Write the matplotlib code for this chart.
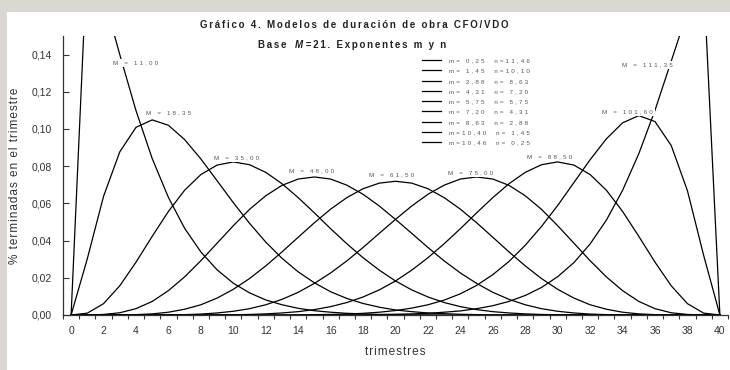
import matplotlib
matplotlib.use('Agg')
import matplotlib.pyplot as plt
from matplotlib.patches import Rectangle
from matplotlib.ticker import FixedLocator, FuncFormatter

# Fraccion de obras terminadas en cada trimestre (0..40) para cada par de exponentes
trimestres = list(range(41))
m_exp = [0.25, 1.45, 2.88, 4.31, 5.75, 7.20, 8.63, 10.40, 10.46]
n_exp = [11.46, 10.10, 8.63, 7.20, 5.75, 4.31, 2.88, 1.45, 0.25]
M_valores = ['11,00', '18,35', '35,00', '48,00', '61,50', '75,00', '88,50', '101,60', '111,35']

serie_1 = [0, .1945, .1717, .1400, .1099, .0841, .0632, .0466, .0339, .0243, .0171, .0119, .0081,
           .0055, .0036, .0023, .0015, .0009, .0006, .0003, .0002, .0001, .0001, 0, 0, 0, 0, 0, 0,
           0, 0, 0, 0, 0, 0, 0, 0, 0, 0, 0, 0]
serie_2 = [0, .0303, .0638, .0877, .1009, .1049, .1020, .0943, .0839, .0722, .0604, .0493, .0392,
           .0305, .0232, .0173, .0125, .0089, .0062, .0042, .0027, .0018, .0011, .0007, .0004,
           .0002, .0001, .0001, 0, 0, 0, 0, 0, 0, 0, 0, 0, 0, 0, 0, 0]
serie_3 = [0, .0010, .0061, .0157, .0284, .0423, .0557, .0671, .0755, .0806, .0823, .0808, .0767,
           .0706, .0631, .0549, .0464, .0383, .0308, .0241, .0183, .0135, .0097, .0067, .0045,
           .0029, .0018, .0011, .0006, .0003, .0001, .0001, 0, 0, 0, 0, 0, 0, 0, 0, 0]
serie_4 = [0, 0, .0003, .0012, .0034, .0073, .0131, .0205, .0292, .0386, .0480, .0568, .0641,
           .0697, .0731, .0742, .0731, .0698, .0649, .0586, .0514, .0439, .0363, .0291, .0226,
           .0170, .0122, .0084, .0055, .0034, .0020, .0011, .0005, .0002, .0001, 0, 0, 0, 0, 0, 0]
serie_5 = [0, 0, 0, 0, .0002, .0006, .0015, .0031, .0055, .0091, .0138, .0196, .0264, .0339,
           .0418, .0496, .0569, .0631, .0679, .0709, .0719, .0709, .0679, .0631, .0569, .0496,
           .0418, .0339, .0264, .0196, .0138, .0091, .0055, .0031, .0015, .0006, .0002, 0, 0, 0, 0]
serie_6 = [0, 0, 0, 0, 0, 0, .0001, .0002, .0005, .0011, .0020, .0034, .0055, .0084, .0122,
           .0170, .0226, .0291, .0363, .0439, .0514, .0586, .0649, .0698, .0731, .0742, .0731,
           .0697, .0641, .0568, .0480, .0386, .0292, .0205, .0131, .0073, .0034, .0012, .0003, 0, 0]
serie_7 = [0, 0, 0, 0, 0, 0, 0, 0, 0, .0001, .0001, .0003, .0006, .0011, .0018, .0029, .0045,
           .0067, .0097, .0135, .0183, .0241, .0308, .0383, .0464, .0549, .0631, .0706, .0767,
           .0808, .0823, .0806, .0755, .0671, .0557, .0423, .0284, .0157, .0061, .0010, 0]
serie_8 = [0, 0, 0, 0, 0, 0, 0, 0, 0, 0, 0, 0, 0, 0, .0001, .0002, .0003, .0005, .0009, .0015,
           .0024, .0037, .0055, .0080, .0114, .0159, .0217, .0288, .0375, .0476, .0589, .0712,
           .0835, .0947, .1033, .1072, .1040, .0911, .0668, .0320, 0]
serie_9 = [0, 0, 0, 0, 0, 0, 0, 0, 0, 0, 0, 0, 0, 0, 0, 0, 0, .0001, .0001, .0002, .0004, .0006,
           .0009, .0015, .0022, .0034, .0050, .0073, .0105, .0148, .0206, .0282, .0382, .0510,
           .0670, .0867, .1101, .1365, .1630, .1798, 0]
series = [serie_1, serie_2, serie_3, serie_4, serie_5, serie_6, serie_7, serie_8, serie_9]

# posiciones de las etiquetas M (trimestre, valor)
pos_M = [(4.0, 0.1355), (6.0, 0.1086), (10.2, 0.0844), (14.8, 0.0774), (19.75, 0.0753),
         (24.6, 0.0763), (29.5, 0.0849), (34.3, 0.1091), (35.5, 0.1344)]

plt.rcParams['font.family'] = ['Liberation Sans', 'DejaVu Sans']
GRIS = '#333333'


def espaciado(s, sep='\u200a\u200a'):
    return sep.join(s)


def coma(v, pos=None):
    return f'{v:.2f}'.replace('.', ',')


W, H = 730, 370
fig = plt.figure(figsize=(W / 100, H / 100), dpi=100, facecolor='#dbd8d2')
fig.patches.append(Rectangle((7 / W, 0), 1, (H - 12) / H, transform=fig.transFigure,
                             facecolor='white', edgecolor='none', zorder=-10))
ax = fig.add_axes([63 / W, 55 / H, 665 / W, 279 / H])
ax.patch.set_alpha(0)

for s, m, n in zip(series, m_exp, n_exp):
    etiqueta = f'm={coma(m):>5}  n={coma(n):>5}'
    ax.plot(trimestres, s, color='black', lw=0.9, label=espaciado(etiqueta, '\u2004'))

for (x, y), txt in zip(pos_M, M_valores):
    ax.text(x, y, espaciado(f'M = {txt}', '\u2004'), fontsize=4.5, color='#555555',
            ha='center', va='center', zorder=5,
            bbox=dict(facecolor='white', edgecolor='none', pad=1.2))

ax.set_xlim(-0.5, 40.5)
ax.set_ylim(0, 0.15)
ax.set_xticks(range(0, 41, 2))
ax.xaxis.set_minor_locator(FixedLocator([i - 0.5 for i in range(42)]))
ax.set_yticks([0, 0.02, 0.04, 0.06, 0.08, 0.10, 0.12, 0.14])
ax.yaxis.set_major_formatter(FuncFormatter(coma))
ax.tick_params(axis='x', which='major', length=0, pad=8, labelsize=7.5, labelcolor=GRIS)
ax.tick_params(axis='x', which='minor', length=3, width=0.8, direction='out', color=GRIS)
ax.tick_params(axis='y', direction='in', length=4, width=0.8, pad=8, labelsize=7.5,
               labelcolor=GRIS, color=GRIS)
for lado in ['top', 'right']:
    ax.spines[lado].set_visible(False)
for lado in ['left', 'bottom']:
    ax.spines[lado].set_color(GRIS)
    ax.spines[lado].set_linewidth(0.9)

ax.legend(loc='upper left', bbox_to_anchor=(422 / W, 1 - 58 / H), bbox_transform=fig.transFigure,
          frameon=False, fontsize=4.5, borderpad=0, borderaxespad=0, handlelength=3.0,
          handletextpad=1.3, labelspacing=0.78, labelcolor='#555555')

fig.text(15 / W, 1 - 175.5 / H, espaciado('% terminadas en el trimestre', '\u200a'),
         rotation=90, fontsize=8.5, color=GRIS, ha='center', va='center')
fig.text(395.5 / W, 1 - 352 / H, espaciado('trimestres', '\u200a'), fontsize=8.5, color=GRIS,
         ha='center', va='center')

# titulo en dos lineas, la M de la segunda en cursiva
fig.text(354 / W, 1 - 25 / H, espaciado('Gráfico 4. Modelos de duración de obra CFO/VDO'),
         fontsize=7, fontweight='bold', ha='center', va='center', color='#222222')
rend = fig.canvas.get_renderer()
x0 = 258
for trozo, estilo in [(espaciado('Base') + '   ', 'normal'), ('M', 'italic'),
                      (' ' + espaciado('=21. Exponentes m y n'), 'normal')]:
    t = fig.text(x0 / W, 1 - 45 / H, trozo, fontsize=7, fontweight='bold', style=estilo,
                 ha='left', va='center', color='#222222')
    x0 = t.get_window_extent(rend).x1

fig.savefig('out.png', dpi=100, facecolor=fig.get_facecolor())
